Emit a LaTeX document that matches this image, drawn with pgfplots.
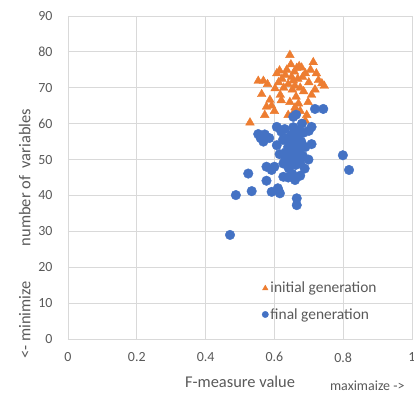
\documentclass[border=0pt]{standalone}
\usepackage{fontspec}
\setmainfont{Carlito}
\usepackage{pgfplots}
\pgfplotsset{compat=1.18}
\definecolor{xlorange}{RGB}{237,125,49}
\definecolor{xlblue}{RGB}{68,114,196}
\definecolor{xlgrid}{RGB}{217,217,217}
\definecolor{xltext}{RGB}{89,89,89}
\begin{document}
\begin{tikzpicture}
\begin{axis}[
  scale only axis,
  width=344bp, height=323bp,
  xmin=0, xmax=1, ymin=0, ymax=90,
  xtick={0,0.2,0.4,0.6,0.8,1},
  ytick={0,10,...,90},
  xticklabels={0,0.2,0.4,0.6,0.8,1},
  grid=major,
  grid style={xlgrid, line width=0.8pt},
  axis line style={xlgrid, line width=0.8pt},
  tick style={draw=none},
  /pgf/number format/assume math mode=true,
  ticklabel style={font=\fontsize{14}{16}\selectfont, text=xltext},
  xticklabel style={yshift=-10bp},
  yticklabel style={xshift=-12bp},
  xlabel={F-measure value},
  ylabel={number of\ \ variables},
  label style={font=\fontsize{16.5}{18}\selectfont, text=xltext},
  xlabel style={at={(axis description cs:0.5,0)}, anchor=north, yshift=-34bp},
  ylabel style={at={(axis description cs:0,0.5)}, anchor=south, yshift=34bp},
  legend style={at={(axis cs:0.555,17)}, anchor=north west, draw=none, fill=none,
    font=\fontsize{15.5}{17}\selectfont, text=xltext, row sep=10bp,
    legend cell align=left},
  legend image code/.code={\draw[#1, mark size=3.2pt] plot coordinates {(0cm,0cm)};},
]
\addplot[only marks, mark=triangle*, mark size=5bp, color=xlorange, mark options={draw=xlorange, fill=xlorange}] coordinates {
(0.529,60.3) (0.553,71.9) (0.568,71.9) (0.563,68.2) (0.577,64.7) (0.572,62.4)
(0.587,66.6) (0.592,65.0) (0.602,69.8) (0.607,74.0) (0.612,71.5) (0.617,68.0)
(0.622,72.5) (0.627,70.0) (0.632,73.5) (0.636,75.0) (0.640,71.0) (0.645,79.1)
(0.648,76.5) (0.650,73.0) (0.652,69.5) (0.655,72.0) (0.658,74.5) (0.660,70.5)
(0.663,67.5) (0.665,75.5) (0.668,72.5) (0.670,65.6) (0.672,76.0) (0.675,70.0)
(0.679,75.6) (0.682,73.0) (0.685,69.0) (0.690,74.0) (0.694,62.4) (0.698,66.0)
(0.700,71.5) (0.705,75.0) (0.708,68.0) (0.713,77.1) (0.718,69.5) (0.722,74.0)
(0.728,72.1) (0.738,71.2) (0.745,70.5) (0.655,63.0) (0.640,62.4) (0.660,64.5)
(0.620,66.5) (0.600,63.5) (0.580,71.0) (0.690,60.8) (0.675,63.5) (0.615,74.8)
(0.645,66.0)
};
\addlegendentry{initial generation}
\addplot[only marks, mark=*, mark size=4.8bp, color=xlblue, mark options={draw=xlblue, fill=xlblue}] coordinates {
(0.471,29.0) (0.488,40.1) (0.524,46.1) (0.534,41.2) (0.553,57.1) (0.560,56.0)
(0.568,55.0) (0.577,44.1) (0.577,48.0) (0.592,47.1) (0.592,41.0) (0.607,59.1)
(0.607,54.0) (0.611,41.5) (0.616,40.6) (0.610,42.0) (0.626,48.9) (0.626,45.2)
(0.620,57.8) (0.625,55.5) (0.630,58.5) (0.632,52.0) (0.635,50.0) (0.638,56.0)
(0.640,53.5) (0.642,47.5) (0.645,55.0) (0.645,51.0) (0.648,49.0) (0.650,57.0)
(0.650,53.0) (0.652,46.0) (0.655,61.9) (0.655,50.5) (0.658,55.5) (0.660,52.0)
(0.660,44.3) (0.662,48.5) (0.665,39.2) (0.665,37.3) (0.665,54.0) (0.668,50.0)
(0.670,58.2) (0.670,56.5) (0.672,52.5) (0.675,49.0) (0.678,55.0) (0.680,60.0)
(0.683,51.0) (0.685,57.5) (0.690,53.5) (0.699,50.0) (0.708,59.1) (0.708,54.3)
(0.718,64.1) (0.742,64.1) (0.799,51.2) (0.817,47.1) (0.640,45.0) (0.630,49.5)
(0.615,51.5) (0.600,48.0) (0.585,56.0) (0.655,59.0) (0.660,57.5) (0.648,52.0)
(0.688,47.5) (0.700,58.0) (0.663,62.5) (0.675,45.5) (0.572,57.0)
};
\addlegendentry{final generation}
\coordinate (ll) at (rel axis cs:0,0);
\coordinate (ur) at (rel axis cs:1,1);
\coordinate (mx) at (axis cs:0.87,0);
\end{axis}
\node[font=\fontsize{16.5}{18}\selectfont, text=xltext, rotate=90, anchor=south] at ([shift={(-34bp,19bp)}]ll) {<- minimize};
\node[font=\fontsize{14}{16}\selectfont, text=xltext, anchor=north] at ([yshift=-38bp]mx) {maximaize ->};
\pgfresetboundingbox
\path ([shift={(-68bp,-61bp)}]ll) rectangle ([shift={(2bp,16bp)}]ur);
\end{tikzpicture}
\end{document}
